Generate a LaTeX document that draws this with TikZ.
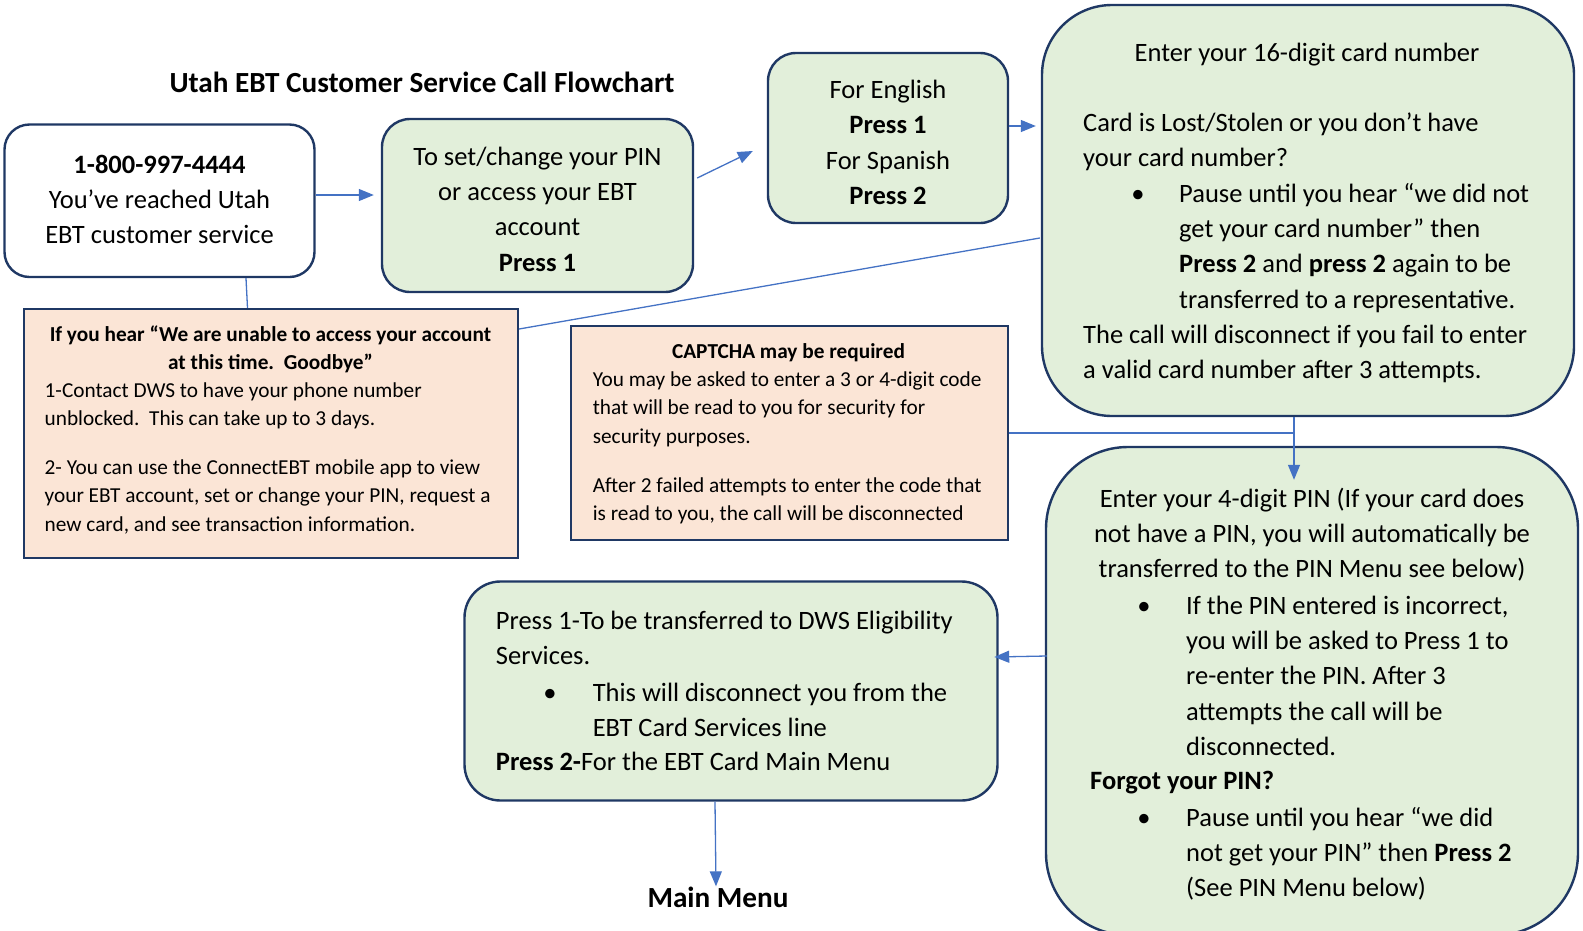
\documentclass[tikz,border=0pt]{standalone}
\usepackage{fontspec}
\setmainfont{Carlito}
\usetikzlibrary{arrows.meta}
\definecolor{navy}{HTML}{1F3864}
\definecolor{gfill}{HTML}{E2EFDA}
\definecolor{pfill}{HTML}{FBE5D6}
\definecolor{lineblue}{HTML}{4472C4}
\newcommand\natsp{\spaceskip=0pt\relax\xspaceskip=0pt\relax}
\tikzset{
  gbox/.style={draw=navy, line width=2.4pt, fill=gfill, inner sep=0pt},
  wbox/.style={draw=navy, line width=2.4pt, fill=white, inner sep=0pt},
  pbox/.style={draw=navy, line width=2.2pt, fill=pfill, inner sep=0pt},
  big/.style={font=\fontsize{26.5}{35.4}\selectfont, inner sep=0pt, execute at begin node={\natsp}},
  small/.style={font=\fontsize{21.3}{28.3}\selectfont, inner sep=0pt, execute at begin node={\natsp}},
  head/.style={font=\fontsize{29.2}{35}\selectfont\bfseries, inner sep=0pt},
  conn/.style={draw=lineblue, line width=1.3pt},
  arr/.style={conn, -{Triangle[length=15pt,width=12pt]}},
}
\begin{document}
\begin{tikzpicture}[x=1pt,y=-1pt]
\useasboundingbox (0,0) rectangle (1583,930);
\clip (0,0) rectangle (1583,930);

% title
\node[head, anchor=base] (title) at (422,92) {Utah EBT Customer Service Call Flowchart};

% boxes
\node[wbox, rounded corners=25pt, minimum width=310pt, minimum height=152.5pt] (phone) at (159.5,200.75) {};
\node[gbox, rounded corners=28pt, minimum width=311pt, minimum height=173pt] (pin) at (537.5,205.5) {};
\node[gbox, rounded corners=28pt, minimum width=240pt, minimum height=170pt] (lang) at (888,138) {};
\node[gbox, rounded corners=70pt, minimum width=532pt, minimum height=411pt] (card) at (1308,210.5) {};
\node[pbox, minimum width=494pt, minimum height=249pt] (pink) at (271,433.5) {};
\node[pbox, minimum width=437pt, minimum height=214pt] (captcha) at (789.5,433) {};
\node[gbox, rounded corners=82pt, minimum width=532pt, minimum height=488pt] (pinentry) at (1312,691) {};
\node[gbox, rounded corners=36pt, minimum width=533pt, minimum height=219pt] (press) at (731,691) {};

% phone text
\node[big, text width=300pt, anchor=base] (phonetxt) at (159.5,173)
  {\centering\textbf{1-800-997-4444}\\You’ve reached Utah\\EBT customer service\par};
% pin text
\node[big, text width=300pt, anchor=base] (pintxt) at (537.5,165)
  {\centering To set/change your PIN\\or access your EBT\\account\\\textbf{Press 1}\par};
% language text
\node[big, text width=230pt, anchor=base] (langtxt) at (888,98.5)
  {\centering For English\\\textbf{Press 1}\\For Spanish\\\textbf{Press 2}\par};

% card text
\node[big, anchor=base] (cardtitle) at (1307,61) {Enter your 16-digit card number};
\node[big, text width=480pt, anchor=base west] (cardtxt1) at (1083,131.5)
  {Card is Lost/Stolen or you don’t have\\your card number?};
\node[big, anchor=base] (cardbul) at (1138,202) {•};
\node[big, text width=390pt, anchor=base west] (cardtxt2) at (1179,202)
  {Pause until you hear “we did not\\get your card number” then\\\textbf{Press 2} and \textbf{press 2} again to be\\transferred to a representative.};
\node[big, text width=480pt, anchor=base west] (cardtxt3) at (1083,343.5)
  {The call will disconnect if you fail to enter\\a valid card number after 3 attempts.};

% pink text
\node[small, text width=480pt, anchor=base] (pinkhead) at (270.5,341)
  {\centering\textbf{If you hear “We are unable to access your account}\\\textbf{at this time.\ \ Goodbye”}\par};
\node[small, text width=470pt, anchor=base west] (pinktxt1) at (44.5,397)
  {1-Contact DWS to have your phone number\\unblocked.\ \ This can take up to 3 days.};
\node[small, text width=470pt, anchor=base west] (pinktxt2) at (44.5,474.5)
  {2- You can use the ConnectEBT mobile app to view\\your EBT account, set or change your PIN, request a\\new card, and see transaction information.};

% captcha text
\node[small, anchor=base] (caphead) at (788.5,358) {\textbf{CAPTCHA may be required}};
\node[small, text width=420pt, anchor=base west] (captxt1) at (592.6,386.5)
  {You may be asked to enter a 3 or 4-digit code\\that will be read to you for security for\\security purposes.};
\node[small, text width=420pt, anchor=base west] (captxt2) at (592.6,492.5)
  {After 2 failed attempts to enter the code that\\is read to you, the call will be disconnected};

% pin entry text
\node[big, text width=500pt, anchor=base] (pintxt1) at (1312,507)
  {\centering Enter your 4-digit PIN (If your card does\\not have a PIN, you will automatically be\\transferred to the PIN Menu see below)\par};
\node[big, anchor=base] (pinbul1) at (1144,614) {•};
\node[big, text width=380pt, anchor=base west] (pintxt2) at (1186,614)
  {If the PIN entered is incorrect,\\you will be asked to Press 1 to\\re-enter the PIN. After 3\\attempts the call will be\\disconnected.};
\node[big, anchor=base west] (forgot) at (1090,789) {\textbf{Forgot your PIN?}};
\node[big, anchor=base] (pinbul2) at (1144,826) {•};
\node[big, text width=380pt, anchor=base west] (pintxt3) at (1186,826)
  {Pause until you hear “we did\\not get your PIN” then \textbf{Press 2}\\(See PIN Menu below)};

% press box text
\node[big, text width=500pt, anchor=base west] (presstxt1) at (495.7,629.5)
  {Press 1-To be transferred to DWS Eligibility\\Services.};
\node[big, anchor=base] (pressbul) at (550,701) {•};
\node[big, text width=400pt, anchor=base west] (presstxt2) at (592.6,701)
  {This will disconnect you from the\\EBT Card Services line};
\node[big, anchor=base west] (presstxt3) at (495.7,770.5)
  {\textbf{Press 2-}For the EBT Card Main Menu};

% main menu
\node[head, anchor=base] (mainmenu) at (718,907) {Main Menu};

% connectors
\draw[arr] ([yshift=5.75pt]phone.east) -- ([xshift=-7pt,yshift=10.5pt]pin.west);
\draw[arr] ([xshift=3pt,yshift=27.5pt]pin.east) -- ([xshift=-14pt,yshift=-13pt]lang.west);
\draw[arr] ([yshift=12pt]lang.east) -- ([xshift=-5pt,yshift=84.5pt]card.west);
\draw[conn] ([xshift=86.5pt]phone.south) -- ([xshift=-23.5pt]pink.north);
\draw[conn] ([yshift=104.5pt]pink.east) -- ([xshift=-1pt,yshift=-27.5pt]card.west);
\draw[conn] (captcha.east) -- ([xshift=-14pt]card.south |- captcha.east);
\draw[arr] ([xshift=-14pt]card.south) -- ([xshift=-18pt,yshift=-34pt]pinentry.north);
\draw[arr] ([xshift=2pt,yshift=35pt]pinentry.west) -- ([xshift=-4.5pt,yshift=34pt]press.east);
\draw[arr] ([xshift=-16pt]press.south) -- ([xshift=-2pt]mainmenu.north);
\end{tikzpicture}
\end{document}
